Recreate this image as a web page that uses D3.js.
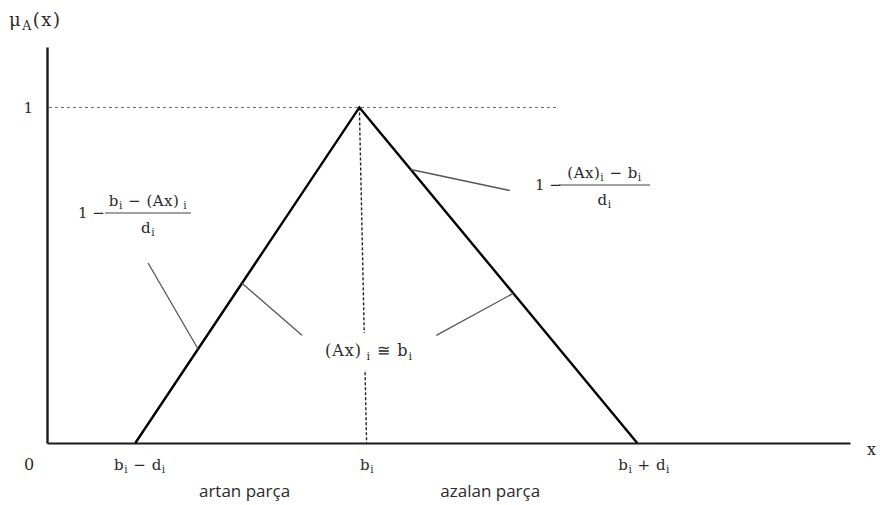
<!DOCTYPE html>
<html>
<head>
<meta charset="utf-8">
<script src="https://cdn.jsdelivr.net/npm/d3@7"></script>
<style>
  html, body { margin: 0; padding: 0; background: #fff; }
  svg { display: block; }
</style>
</head>
<body>
<svg id="chart" width="880" height="505"></svg>
<script>
// Triangular membership function μ_A(x) with peak at b_i and spread d_i
const xDomain = [0, 100];
const muDomain = [0, 1.18];

// Corner points of the triangle (x in axis units, μ value)
const triangleX = [11, 38.9, 73.5];
const triangleMu = [0, 1, 0];

// Dotted line dropped from the peak down to b_i on the x axis
const dropX = [38.9, 39.8];
const dropMu = [1, 0];

// Horizontal reference level μ = 1
const levelMu = 1;
const levelEndX = 63.6;

// x-axis tick positions and labels: [text, isSubscript] pieces
const xTickValues = [11.5, 39.8, 74.3];
const xTickLabels = [
  [["b", false], ["i", true], [" − d", false], ["i", true]],
  [["b", false], ["i", true]],
  [["b", false], ["i", true], [" + d", false], ["i", true]]
];
const yTickValues = [1];
const yTickLabels = ["1"];

// Segment names under the axis
const segmentNames = ["artan parça", "azalan parça"];
const segmentX = [24.6, 55.2];

// Leader lines: edge (0 = rising, 1 = falling), μ where they touch the edge
const leaderEdge = [0, 0, 1, 1];
const leaderMu = [0.28, 0.476, 0.815, 0.446];
const leaderOffsetX = [-50, 60, 99, -77];
const leaderOffsetY = [-86, 52, 21, 42];

const svg = d3.select("#chart");
const x = d3.scaleLinear().domain(xDomain).range([47, 850]);
const y = d3.scaleLinear().domain(muDomain).range([443, 47]);

const ink = "#1a1a1a";
const textInk = "#2a2a2a";
const serif = "'DejaVu Serif', 'Liberation Serif', serif";
const sans = "'Open Sans', 'Noto Sans', sans-serif";

// Writes a text element from pieces with subscripts
function richText(g, pieces, px, py, size, anchor, spacing) {
  const t = g.append("text")
    .attr("x", px).attr("y", py)
    .attr("text-anchor", anchor || "middle")
    .attr("font-family", serif)
    .attr("font-size", size)
    .attr("letter-spacing", spacing || 0.5)
    .attr("fill", textInk);
  let sub = false;
  pieces.forEach(([s, isSub]) => {
    const span = t.append("tspan").text(s);
    if (isSub && !sub) { span.attr("dy", size * 0.22).attr("font-size", size * 0.7); }
    else if (isSub) { span.attr("font-size", size * 0.7); }
    else if (!isSub && sub) { span.attr("dy", -size * 0.22); }
    sub = isSub;
  });
  return t;
}

// Axes
const xAxis = d3.axisBottom(x).tickValues(xTickValues).tickSize(0).tickPadding(14).tickFormat(() => "");
const gx = svg.append("g").attr("transform", `translate(0,${y(0)})`).call(xAxis);
gx.select(".domain").attr("stroke", ink).attr("stroke-width", 2);
gx.selectAll(".tick text").remove();
gx.selectAll(".tick").each(function(d, i) {
  richText(d3.select(this), xTickLabels[i], 0, 27, 15);
});

const yAxis = d3.axisLeft(y).tickValues(yTickValues).tickSize(0).tickPadding(14)
  .tickFormat((d, i) => yTickLabels[i]);
const gy = svg.append("g").attr("transform", `translate(${x(0)},0)`).call(yAxis);
gy.select(".domain").attr("stroke", ink).attr("stroke-width", 2.4);
gy.selectAll(".tick text").attr("font-family", serif).attr("font-size", 15)
  .attr("fill", textInk).attr("dy", "0.35em");

// Origin label and axis titles
svg.append("text").attr("x", x(0) - 18).attr("y", y(0) + 27)
  .attr("text-anchor", "middle").attr("font-family", serif).attr("font-size", 16)
  .attr("fill", textInk).text("0");
svg.append("text").attr("x", 867).attr("y", 455)
  .attr("font-family", serif).attr("font-size", 16).attr("fill", textInk).text("x");
richText(svg, [["μ", false], ["A", true], ["(x)", false]], 9, 26, 18, "start", 1.5);

// μ = 1 dashed reference level
svg.append("line")
  .attr("x1", x(0) + 2).attr("x2", x(levelEndX))
  .attr("y1", y(levelMu)).attr("y2", y(levelMu))
  .attr("stroke", "#666").attr("stroke-width", 1).attr("stroke-dasharray", "3,3");

// Dotted drop from peak to b_i
svg.append("line")
  .attr("x1", x(dropX[0])).attr("y1", y(dropMu[0]))
  .attr("x2", x(dropX[1])).attr("y2", y(dropMu[1]))
  .attr("stroke", "#222").attr("stroke-width", 1.4).attr("stroke-dasharray", "3,2");

// Triangle
const tri = triangleX.map((v, i) => [v, triangleMu[i]]);
svg.append("path")
  .attr("d", d3.line().x(d => x(d[0])).y(d => y(d[1]))(tri))
  .attr("fill", "none").attr("stroke", "#000").attr("stroke-width", 2.4)
  .attr("stroke-linejoin", "miter");

// Leader lines from the edges to the formulas
function edgePoint(edge, mu) {
  const a = tri[edge], b = tri[edge + 1];
  const t = (mu - a[1]) / (b[1] - a[1]);
  return [x(a[0] + t * (b[0] - a[0])), y(mu)];
}
leaderEdge.forEach((e, i) => {
  const [px, py] = edgePoint(e, leaderMu[i]);
  svg.append("line")
    .attr("x1", px).attr("y1", py)
    .attr("x2", px + leaderOffsetX[i]).attr("y2", py + leaderOffsetY[i])
    .attr("stroke", "#555").attr("stroke-width", 1.3);
});

// Fraction formula: "1 − numerator / denominator"
function fraction(left, barX1, barX2, barY, num, den) {
  svg.append("text").attr("x", left).attr("y", barY + 5)
    .attr("font-family", serif).attr("font-size", 15).attr("fill", textInk).text("1 −");
  svg.append("line").attr("x1", barX1).attr("x2", barX2)
    .attr("y1", barY).attr("y2", barY).attr("stroke", "#444").attr("stroke-width", 1.1);
  const cx = (barX1 + barX2) / 2;
  richText(svg, num, cx, barY - 7, 15);
  richText(svg, den, cx, barY + 20, 15);
}
fraction(78, 105, 191, 213,
  [["b", false], ["i", true], [" − (Ax)", false], [" i", true]],
  [["d", false], ["i", true]]);
fraction(535, 559, 650, 185,
  [["(Ax)", false], ["i", true], [" − b", false], ["i", true]],
  [["d", false], ["i", true]]);

// Central condition label on a white patch that interrupts the dotted drop
const centre = richText(svg, [["(Ax)", false], [" i", true], ["  ≅  b", false], ["i", true]], 369, 356, 16, "middle", 1);
const bb = centre.node().getBBox();
svg.insert("rect", function() { return centre.node(); })
  .attr("x", bb.x - 4).attr("y", bb.y - 8)
  .attr("width", bb.width + 8).attr("height", bb.height + 16)
  .attr("fill", "#fff");

// Segment names
segmentNames.forEach((s, i) => {
  svg.append("text").attr("x", x(segmentX[i])).attr("y", 497)
    .attr("text-anchor", "middle").attr("font-family", sans).attr("font-size", 17)
    .attr("fill", textInk).text(s);
});
</script>
</body>
</html>
